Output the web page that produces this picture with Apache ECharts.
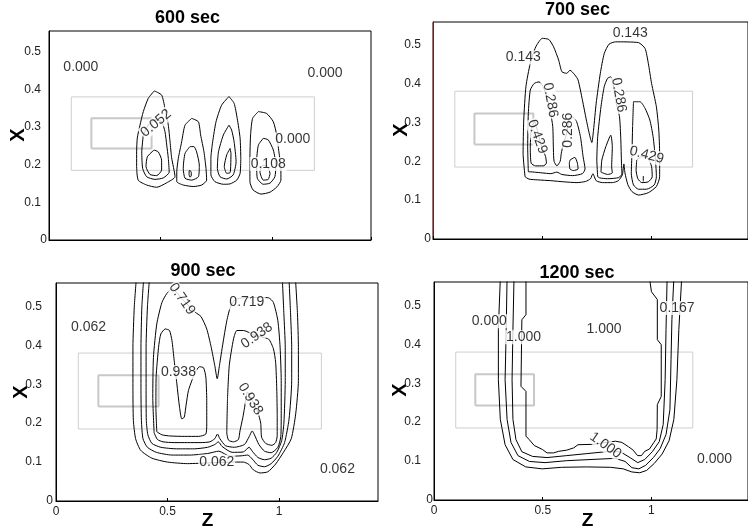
<!DOCTYPE html>
<html><head><meta charset="utf-8">
<script src="https://cdn.jsdelivr.net/npm/echarts@6/dist/echarts.min.js"></script>
<style>html,body{margin:0;padding:0;background:#fff}#c{width:748px;height:529px}</style>
</head><body><div id="c"></div>
<script>
const titles = ['600 sec', '700 sec', '900 sec', '1200 sec'];
const yTicks = [0, 0.1, 0.2, 0.3, 0.4, 0.5];
const xTicks = [0, 0.5, 1];
const yName = 'X';
const xName = 'Z';

// contour polylines [z, x]
const c600 = [
 [[0.472,0.396],[0.505,0.385],[0.520,0.350],[0.535,0.305],[0.543,0.260],[0.550,0.218],[0.565,0.168],[0.528,0.152],[0.483,0.140],[0.438,0.146],[0.400,0.159],[0.393,0.199],[0.393,0.234],[0.396,0.271],[0.408,0.305],[0.423,0.341],[0.445,0.376],[0.472,0.396]],
 [[0.423,0.279],[0.416,0.234],[0.420,0.190],[0.438,0.168],[0.475,0.161],[0.513,0.165],[0.539,0.180],[0.535,0.217],[0.528,0.252],[0.520,0.288],[0.505,0.314],[0.475,0.319],[0.445,0.305],[0.423,0.279]],
 [[0.471,0.239],[0.490,0.234],[0.505,0.212],[0.505,0.186],[0.483,0.171],[0.453,0.174],[0.435,0.195],[0.441,0.221],[0.471,0.239]],
 [[0.640,0.323],[0.670,0.314],[0.680,0.279],[0.695,0.234],[0.704,0.190],[0.707,0.159],[0.685,0.146],[0.647,0.142],[0.602,0.146],[0.573,0.155],[0.573,0.181],[0.580,0.217],[0.595,0.261],[0.610,0.305],[0.640,0.323]],
 [[0.632,0.248],[0.650,0.248],[0.662,0.234],[0.674,0.199],[0.670,0.168],[0.640,0.159],[0.610,0.164],[0.602,0.190],[0.610,0.230],[0.632,0.248]],
 [[0.629,0.185],[0.638,0.181],[0.638,0.170],[0.632,0.167],[0.628,0.175],[0.629,0.185]],
 [[0.807,0.381],[0.830,0.363],[0.844,0.323],[0.857,0.270],[0.860,0.217],[0.857,0.177],[0.842,0.159],[0.812,0.149],[0.782,0.148],[0.744,0.155],[0.726,0.173],[0.726,0.217],[0.734,0.261],[0.749,0.314],[0.774,0.358],[0.807,0.381]],
 [[0.807,0.305],[0.819,0.292],[0.830,0.261],[0.839,0.208],[0.826,0.173],[0.797,0.162],[0.767,0.168],[0.755,0.190],[0.760,0.234],[0.782,0.279],[0.807,0.305]],
 [[0.812,0.243],[0.816,0.230],[0.815,0.199],[0.812,0.179],[0.797,0.177],[0.786,0.195],[0.797,0.226],[0.812,0.243]],
 [[0.939,0.341],[0.976,0.336],[1.006,0.314],[1.021,0.279],[1.031,0.234],[1.040,0.190],[1.040,0.159],[1.022,0.141],[0.991,0.127],[0.951,0.122],[0.915,0.133],[0.901,0.155],[0.901,0.217],[0.904,0.279],[0.913,0.323],[0.939,0.341]],
 [[0.961,0.270],[0.983,0.266],[1.006,0.239],[1.017,0.199],[1.013,0.168],[0.991,0.151],[0.961,0.148],[0.934,0.164],[0.931,0.208],[0.939,0.252],[0.961,0.270]],
 [[0.958,0.199],[0.979,0.195],[0.991,0.177],[0.983,0.161],[0.961,0.159],[0.946,0.181],[0.958,0.199]]
];
const c700 = [
 [[0.422,0.160],[0.413,0.220],[0.416,0.306],[0.426,0.392],[0.446,0.452],[0.471,0.494],[0.501,0.516],[0.531,0.513],[0.553,0.494],[0.576,0.460],[0.591,0.430],[0.613,0.426],[0.628,0.434],[0.650,0.422],[0.665,0.409],[0.685,0.357],[0.703,0.306],[0.718,0.267],[0.728,0.248],[0.736,0.280],[0.748,0.349],[0.767,0.426],[0.785,0.477],[0.807,0.501],[0.837,0.507],[0.942,0.505],[0.972,0.490],[0.987,0.452],[1.002,0.400],[1.024,0.340],[1.035,0.280],[1.039,0.220],[1.039,0.160],[1.024,0.135],[0.987,0.119],[0.942,0.113],[0.912,0.122],[0.893,0.140],[0.880,0.170],[0.875,0.193],[0.868,0.165],[0.850,0.150],[0.822,0.145],[0.777,0.145],[0.748,0.150],[0.733,0.168],[0.722,0.155],[0.700,0.148],[0.660,0.145],[0.600,0.147],[0.540,0.150],[0.480,0.152],[0.440,0.154],[0.422,0.160]],
 [[0.437,0.173],[0.434,0.237],[0.437,0.323],[0.446,0.383],[0.464,0.400],[0.486,0.404],[0.505,0.392],[0.523,0.362],[0.538,0.327],[0.549,0.289],[0.552,0.229],[0.555,0.200],[0.568,0.188],[0.583,0.200],[0.588,0.220],[0.598,0.246],[0.613,0.272],[0.622,0.306],[0.635,0.316],[0.658,0.302],[0.676,0.263],[0.688,0.212],[0.697,0.180],[0.685,0.168],[0.640,0.163],[0.590,0.166],[0.568,0.172],[0.540,0.168],[0.500,0.170],[0.464,0.172],[0.437,0.173]],
 [[0.467,0.302],[0.482,0.272],[0.498,0.237],[0.516,0.212],[0.520,0.195],[0.505,0.188],[0.470,0.188],[0.450,0.195],[0.446,0.237],[0.452,0.289],[0.467,0.302]],
 [[0.628,0.203],[0.650,0.210],[0.662,0.195],[0.665,0.180],[0.643,0.176],[0.628,0.180],[0.625,0.195],[0.628,0.203]],
 [[0.755,0.160],[0.751,0.203],[0.755,0.263],[0.770,0.340],[0.785,0.392],[0.800,0.413],[0.815,0.417],[0.825,0.400],[0.837,0.357],[0.855,0.314],[0.861,0.255],[0.864,0.195],[0.866,0.168],[0.852,0.158],[0.800,0.155],[0.765,0.157],[0.755,0.160]],
 [[0.770,0.172],[0.774,0.203],[0.792,0.237],[0.815,0.267],[0.822,0.237],[0.819,0.186],[0.822,0.170],[0.800,0.166],[0.770,0.172]],
 [[0.919,0.353],[0.949,0.353],[0.972,0.336],[0.994,0.306],[1.009,0.263],[1.020,0.203],[1.024,0.160],[1.014,0.139],[0.979,0.128],[0.942,0.128],[0.919,0.139],[0.909,0.169],[0.912,0.220],[0.915,0.289],[0.919,0.353]],
 [[0.934,0.203],[0.957,0.212],[0.987,0.207],[1.002,0.186],[1.005,0.160],[0.987,0.147],[0.957,0.145],[0.939,0.155],[0.931,0.177],[0.934,0.203]],
 [[0.964,0.162],[0.964,0.148]]
];
const c900 = [
 [[0.360,0.57],[0.351,0.498],[0.345,0.395],[0.345,0.292],[0.347,0.207],[0.357,0.160],[0.380,0.130],[0.430,0.110],[0.500,0.100],[0.590,0.096],[0.690,0.098],[0.780,0.100],[0.840,0.100],[0.865,0.094],[0.885,0.080],[0.915,0.072],[0.950,0.075],[0.985,0.095],[1.020,0.125],[1.055,0.160],[1.075,0.224],[1.087,0.309],[1.087,0.395],[1.083,0.480],[1.074,0.57]],
 [[0.393,0.57],[0.385,0.498],[0.381,0.395],[0.381,0.292],[0.383,0.207],[0.390,0.160],[0.410,0.138],[0.450,0.125],[0.520,0.118],[0.600,0.118],[0.680,0.122],[0.730,0.128],[0.780,0.115],[0.830,0.116],[0.860,0.118],[0.880,0.108],[0.905,0.092],[0.935,0.088],[0.965,0.096],[0.995,0.115],[1.025,0.150],[1.045,0.210],[1.057,0.309],[1.057,0.395],[1.052,0.480],[1.045,0.57]],
 [[0.419,0.57],[0.410,0.498],[0.404,0.395],[0.404,0.292],[0.405,0.207],[0.412,0.170],[0.430,0.148],[0.470,0.138],[0.540,0.134],[0.620,0.134],[0.680,0.138],[0.712,0.145],[0.728,0.152],[0.745,0.140],[0.790,0.125],[0.840,0.126],[0.866,0.138],[0.880,0.128],[0.905,0.112],[0.935,0.106],[0.965,0.110],[0.990,0.125],[1.012,0.155],[1.022,0.200],[1.028,0.309],[1.028,0.395],[1.022,0.480],[1.015,0.57]],
 [[0.440,0.175],[0.434,0.267],[0.437,0.369],[0.452,0.455],[0.475,0.510],[0.497,0.533],[0.520,0.545],[0.572,0.515],[0.624,0.485],[0.650,0.474],[0.676,0.442],[0.696,0.395],[0.712,0.348],[0.723,0.314],[0.733,0.348],[0.748,0.403],[0.766,0.463],[0.784,0.502],[0.808,0.519],[0.886,0.523],[0.953,0.522],[0.975,0.510],[0.995,0.463],[1.005,0.395],[1.010,0.309],[1.010,0.224],[1.008,0.165],[0.995,0.138],[0.965,0.124],[0.935,0.128],[0.910,0.145],[0.890,0.170],[0.880,0.180],[0.866,0.165],[0.845,0.145],[0.800,0.138],[0.760,0.142],[0.735,0.160],[0.724,0.172],[0.712,0.160],[0.690,0.152],[0.650,0.150],[0.590,0.150],[0.530,0.150],[0.480,0.152],[0.455,0.158],[0.440,0.175]],
 [[0.452,0.178],[0.448,0.241],[0.449,0.318],[0.460,0.395],[0.470,0.429],[0.490,0.442],[0.509,0.438],[0.520,0.412],[0.530,0.361],[0.542,0.301],[0.554,0.241],[0.564,0.211],[0.575,0.215],[0.584,0.249],[0.594,0.284],[0.609,0.309],[0.624,0.331],[0.644,0.345],[0.662,0.342],[0.672,0.318],[0.676,0.258],[0.676,0.198],[0.672,0.172],[0.640,0.166],[0.575,0.166],[0.512,0.167],[0.475,0.170],[0.452,0.178]],
 [[0.769,0.262],[0.777,0.348],[0.796,0.416],[0.811,0.438],[0.841,0.438],[0.893,0.425],[0.953,0.416],[0.975,0.391],[0.985,0.356],[0.990,0.288],[0.992,0.219],[0.992,0.168],[0.985,0.150],[0.968,0.143],[0.940,0.148],[0.922,0.164],[0.918,0.200],[0.905,0.228],[0.880,0.258],[0.858,0.280],[0.850,0.255],[0.838,0.215],[0.825,0.180],[0.818,0.158],[0.796,0.152],[0.774,0.156],[0.766,0.175],[0.769,0.262]]
];
const c1200 = [
 [[0.423,0.57],[0.423,0.476],[0.404,0.463],[0.400,0.292],[0.423,0.279],[0.423,0.164],[0.438,0.155],[0.461,0.140],[0.498,0.130],[0.520,0.121],[0.550,0.121],[0.573,0.125],[0.610,0.128],[0.643,0.134],[0.662,0.142],[0.730,0.143],[0.782,0.147],[0.834,0.151],[0.864,0.148],[0.894,0.137],[0.916,0.128],[0.936,0.114],[0.954,0.114],[0.969,0.125],[0.991,0.131],[1.010,0.147],[1.022,0.157],[1.026,0.181],[1.027,0.245],[1.045,0.266],[1.045,0.399],[1.027,0.412],[1.027,0.515],[1.000,0.535],[0.991,0.57]],
 [[0.368,0.57],[0.363,0.438],[0.359,0.309],[0.363,0.207],[0.377,0.155],[0.404,0.124],[0.453,0.112],[0.520,0.109],[0.610,0.114],[0.700,0.119],[0.789,0.124],[0.857,0.124],[0.901,0.109],[0.937,0.096],[0.969,0.104],[1.004,0.124],[1.036,0.150],[1.054,0.194],[1.063,0.309],[1.067,0.438],[1.072,0.57]],
 [[0.336,0.57],[0.332,0.438],[0.327,0.309],[0.336,0.207],[0.354,0.148],[0.386,0.114],[0.439,0.099],[0.511,0.096],[0.610,0.101],[0.722,0.104],[0.834,0.107],[0.879,0.099],[0.910,0.083],[0.942,0.080],[0.973,0.089],[1.009,0.109],[1.040,0.132],[1.067,0.168],[1.085,0.232],[1.090,0.360],[1.094,0.463],[1.103,0.57]],
 [[0.305,0.57],[0.296,0.438],[0.296,0.309],[0.305,0.207],[0.327,0.142],[0.363,0.104],[0.422,0.085],[0.498,0.080],[0.587,0.084],[0.700,0.085],[0.812,0.084],[0.870,0.080],[0.910,0.072],[0.946,0.070],[0.978,0.076],[1.013,0.094],[1.049,0.118],[1.081,0.152],[1.103,0.207],[1.117,0.309],[1.126,0.438],[1.139,0.57]]
];

// contour labels [text, z, x, rotation]
const l600 = [['0.000',0.143,0.460,0],['0.000',1.238,0.444,0],['0.052',0.480,0.310,40],['0.000',1.093,0.267,0],['0.108',0.983,0.202,0]];
const l700 = [['0.143',0.414,0.467,0],['0.143',0.904,0.529,0],['0.286',0.538,0.357,-80],['0.429',0.478,0.263,-70],['0.286',0.621,0.280,90],['0.286',0.852,0.370,-80],['0.429',0.979,0.216,-15]];
const l900 = [['0.062',0.146,0.446,0],['0.719',0.565,0.519,-55],['0.719',0.856,0.510,0],['0.938',0.901,0.425,35],['0.938',0.549,0.331,0],['0.938',0.872,0.262,-58],['0.062',0.721,0.101,0],['0.062',1.262,0.083,0]];
const l1200 = [['0.000',0.254,0.459,0],['1.000',0.412,0.418,0],['1.000',0.782,0.438,0],['0.167',1.118,0.493,0],['1.000',0.789,0.140,-35],['0.000',1.290,0.106,0]];

// reference rectangles [z, x]
const rectOuter = [[0.10,0.185],[1.19,0.185],[1.19,0.38],[0.10,0.38],[0.10,0.185]];
const rectInner = [[0.19,0.243],[0.46,0.243],[0.46,0.323],[0.19,0.323],[0.19,0.243]];

const contourSets = [c600, c700, c900, c1200];
const labelSets = [l600, l700, l900, l1200];

const FF = '"Liberation Sans", Arial, Helvetica, sans-serif';
const layout = [
 {grid:{left:49,top:31,width:322,height:209}, ymax:0.555, xl:false, tp:[187.5,18.5], ym:2, yp:6, xn:[18,135], zn:null, smooth:0.2, lc:'#000'},
 {grid:{left:433,top:22,width:322,height:217}, ymax:0.558, xl:false, tp:[577.5,10.5], ym:2, yp:10, xn:[401,130], zn:null, smooth:0.2, lc:'#7a1a1a'},
 {grid:{left:56,top:283,width:322,height:218}, ymax:0.56, xl:true, tp:[203,271], ym:3, yp:11, xn:[21,392], zn:[207.5,521], smooth:0.2, lc:'#000'},
 {grid:{left:434,top:282,width:322,height:218}, ymax:0.56, xl:true, tp:[577,273], ym:1, yp:12, xn:[400,390], zn:[587.5,521], smooth:false, lc:'#000'}
];

const isTick = (arr, v) => arr.some(t => Math.abs(t - v) < 1e-6);

const grid = [], xAxis = [], yAxis = [], series = [], graphic = [];
layout.forEach((L, i) => {
  grid.push(Object.assign({show:true, borderColor:'#000', borderWidth:1, backgroundColor:'#fff'}, L.grid));
  xAxis.push({
    type:'value', gridIndex:i, min:0, max:1.444, interval:0.5,
    axisLine:{show:true, lineStyle:{color:'#000', width:1}},
    axisTick:{show:true, inside:true, length:3, lineStyle:{color:'#000'}},
    splitLine:{show:false},
    axisLabel:{show:L.xl, showMaxLabel:false, margin:5, fontSize:12, color:'#222', fontFamily:FF,
      formatter: v => isTick(xTicks, v) ? (v === 0 ? '0' : String(+v.toFixed(1))) : ''}
  });
  yAxis.push({
    type:'value', gridIndex:i, min:0, max:L.ymax, interval:0.1,
    axisLine:{show:true, lineStyle:{color:L.lc, width:1}},
    axisTick:{show:false}, splitLine:{show:false},
    axisLabel:{show:true, showMaxLabel:false, margin:L.ym, fontSize:12, color:'#222', fontFamily:FF,
      formatter: v => !isTick(yTicks, v) ? '' : (v === 0 ? '{z|0}' : '{r|' + v.toFixed(1) + '}'),
      rich:{z:{fontSize:12, color:'#222', fontFamily:FF}, r:{fontSize:12, color:'#222', fontFamily:FF, padding:[0,L.yp,0,0]}}}
  });
  series.push({type:'line', xAxisIndex:i, yAxisIndex:i, data:rectOuter, symbol:'none', silent:true,
    lineStyle:{color:'#cfcfcf', width:1}, z:1});
  series.push({type:'line', xAxisIndex:i, yAxisIndex:i, data:rectInner, symbol:'none', silent:true,
    lineStyle:{color:'#c8c8c8', width:2}, z:1});
  contourSets[i].forEach(c => series.push({type:'line', xAxisIndex:i, yAxisIndex:i, data:c, symbol:'none',
    silent:true, smooth:L.smooth, clip:true, lineStyle:{color:'#000', width:1}, z:2}));
  series.push({type:'scatter', xAxisIndex:i, yAxisIndex:i, symbolSize:1, silent:true, z:5,
    itemStyle:{color:'rgba(0,0,0,0)'},
    data: labelSets[i].map(([t, z, x, r]) => ({value:[z, x], name:t, label:{rotate:r}})),
    label:{show:true, position:'inside', formatter:'{b}', fontSize:14, color:'#000', fontFamily:FF,
      backgroundColor:'#fff', padding:[0,1]}});
  graphic.push({type:'text', x:L.tp[0], y:L.tp[1], silent:true,
    style:{text:titles[i], font:'bold 18px ' + FF, fill:'#000', textAlign:'center', textVerticalAlign:'middle'}});
  graphic.push({type:'text', x:L.xn[0], y:L.xn[1], rotation:Math.PI / 2, silent:true,
    style:{text:yName, font:'bold 20px ' + FF, fill:'#000', textAlign:'center', textVerticalAlign:'middle'}});
  if (L.zn) graphic.push({type:'text', x:L.zn[0], y:L.zn[1], silent:true,
    style:{text:xName, font:'bold 19px ' + FF, fill:'#000', textAlign:'center', textVerticalAlign:'middle'}});
});

const chart = echarts.init(document.getElementById('c'), null, {renderer:'canvas'});
chart.setOption({animation:false, backgroundColor:'#fff', grid, xAxis, yAxis, series, graphic});
</script>
</body></html>
